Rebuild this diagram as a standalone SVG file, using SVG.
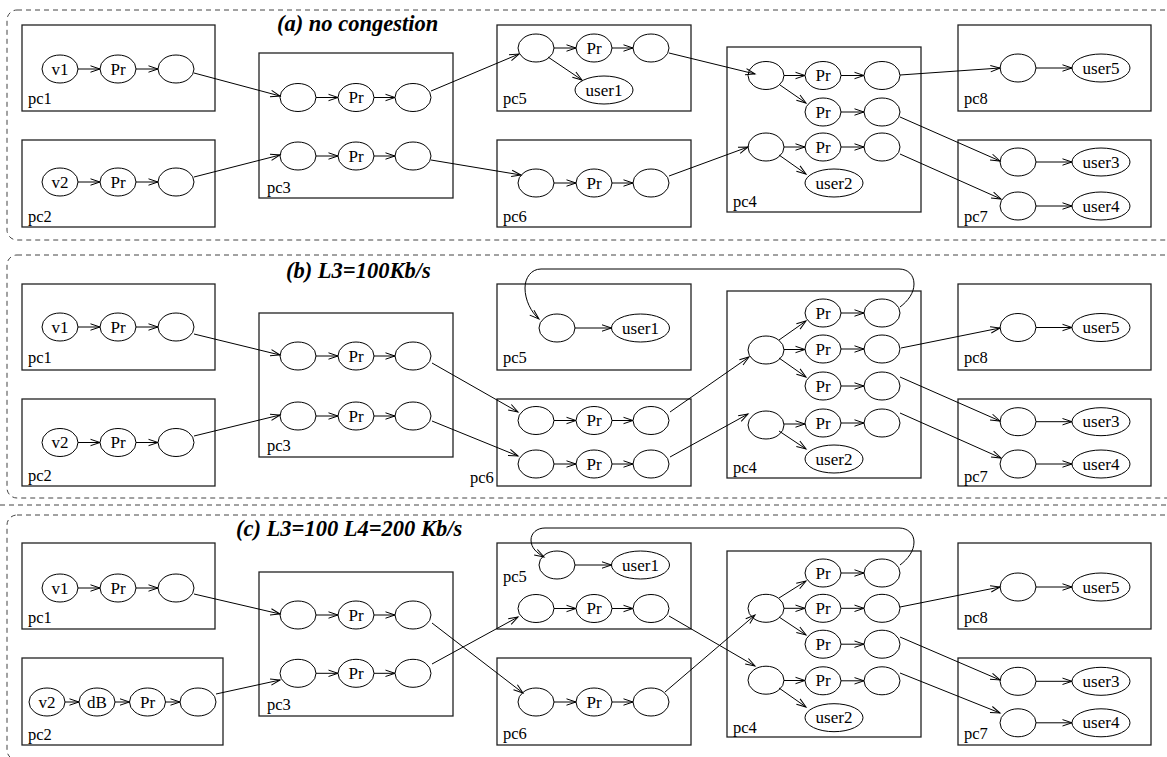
<svg xmlns="http://www.w3.org/2000/svg" width="1167" height="757" viewBox="0 0 1167 757">
<style>
.frame{fill:none;stroke:#444;stroke-width:1;stroke-dasharray:5 4}
.box{fill:none;stroke:#222;stroke-width:1.3}
ellipse{fill:#fff;stroke:#000;stroke-width:1}
text{font-family:"Liberation Serif","DejaVu Serif",serif;font-size:16.5px;fill:#000}
.t{text-anchor:middle;font-size:17px}
.ttl{font-size:22.5px;font-weight:bold;font-style:italic}
#conn line,#conn path{fill:none;stroke:#000;stroke-width:1;marker-end:url(#ah)}
</style>
<defs>
<marker id="ah" markerUnits="userSpaceOnUse" markerWidth="12" markerHeight="10" viewBox="-10 -5 12 10" refX="0" refY="0" orient="auto" overflow="visible">
<path d="M-9.5,-3.2 L0,0 L-9.5,3.2" fill="none" stroke="#000" stroke-width="1"/>
</marker>
</defs>
<rect width="1167" height="757" fill="#fff"/>
<g id="frames">
<rect class="frame" x="7" y="10" width="1180" height="230" rx="10"/>
<rect class="frame" x="7" y="255" width="1180" height="243" rx="10"/>
<line class="frame" x1="0" y1="505" x2="1167" y2="505"/>
<rect class="frame" x="7" y="515" width="1180" height="245" rx="10"/>
<text class="ttl" x="277" y="31">(a) no congestion</text>
<text class="ttl" x="286" y="278">(b) L3=100Kb/s</text>
<text class="ttl" x="236" y="536">(c) L3=100 L4=200 Kb/s</text>
</g>

<!-- ===== Panel (a) ===== -->
<g id="a-pc1"><rect class="box" x="22" y="25" width="193" height="86"/><text x="28" y="104">pc1</text>
<g id="a-pc1-v1"><ellipse cx="60" cy="69" rx="18" ry="14"/><text class="t" x="60" y="74.5">v1</text></g>
<g id="a-pc1-pr"><ellipse cx="118" cy="69" rx="18" ry="14"/><text class="t" x="118" y="74.5">Pr</text></g>
<g id="a-pc1-o"><ellipse cx="176" cy="69" rx="18" ry="14"/></g></g>
<g id="a-pc2"><rect class="box" x="22" y="140" width="193" height="87"/><text x="28" y="222">pc2</text>
<g id="a-pc2-v2"><ellipse cx="60" cy="182" rx="18" ry="14"/><text class="t" x="60" y="187.5">v2</text></g>
<g id="a-pc2-pr"><ellipse cx="118" cy="182" rx="18" ry="14"/><text class="t" x="118" y="187.5">Pr</text></g>
<g id="a-pc2-o"><ellipse cx="176" cy="182" rx="18" ry="14"/></g></g>
<g id="a-pc3"><rect class="box" x="259" y="53" width="194" height="145"/><text x="267" y="193">pc3</text>
<g id="a-pc3-i1"><ellipse cx="298" cy="97.5" rx="18" ry="14"/></g>
<g id="a-pc3-pr1"><ellipse cx="356" cy="97.5" rx="18" ry="14"/><text class="t" x="356" y="103">Pr</text></g>
<g id="a-pc3-o1"><ellipse cx="413" cy="97.5" rx="18" ry="14"/></g>
<g id="a-pc3-i2"><ellipse cx="298" cy="156" rx="18" ry="14"/></g>
<g id="a-pc3-pr2"><ellipse cx="356" cy="156" rx="18" ry="14"/><text class="t" x="356" y="161.5">Pr</text></g>
<g id="a-pc3-o2"><ellipse cx="413" cy="156" rx="18" ry="14"/></g></g>
<g id="a-pc5"><rect class="box" x="497" y="25" width="194" height="86"/><text x="503" y="104">pc5</text>
<g id="a-pc5-i"><ellipse cx="536" cy="48" rx="18" ry="14"/></g>
<g id="a-pc5-pr"><ellipse cx="594" cy="48" rx="18" ry="14"/><text class="t" x="594" y="53.5">Pr</text></g>
<g id="a-pc5-o"><ellipse cx="651" cy="48" rx="18" ry="14"/></g>
<g id="a-pc5-user1"><ellipse cx="604" cy="90" rx="29" ry="14"/><text class="t" x="604" y="95.5">user1</text></g></g>
<g id="a-pc6"><rect class="box" x="497" y="140" width="194" height="87"/><text x="503" y="222">pc6</text>
<g id="a-pc6-i"><ellipse cx="536" cy="183" rx="18" ry="14"/></g>
<g id="a-pc6-pr"><ellipse cx="594" cy="183" rx="18" ry="14"/><text class="t" x="594" y="188.5">Pr</text></g>
<g id="a-pc6-o"><ellipse cx="651" cy="183" rx="18" ry="14"/></g></g>
<g id="a-pc4"><rect class="box" x="727" y="47" width="194" height="165"/><text x="733" y="207">pc4</text>
<g id="a-pc4-i1"><ellipse cx="766" cy="75.5" rx="18" ry="14"/></g>
<g id="a-pc4-pr1"><ellipse cx="823" cy="75.5" rx="18" ry="14"/><text class="t" x="823" y="81">Pr</text></g>
<g id="a-pc4-o1"><ellipse cx="882" cy="75.5" rx="18" ry="14"/></g>
<g id="a-pc4-pr2"><ellipse cx="823" cy="112" rx="18" ry="14"/><text class="t" x="823" y="117.5">Pr</text></g>
<g id="a-pc4-o2"><ellipse cx="882" cy="112" rx="18" ry="14"/></g>
<g id="a-pc4-i2"><ellipse cx="766" cy="147" rx="18" ry="14"/></g>
<g id="a-pc4-pr3"><ellipse cx="823" cy="147" rx="18" ry="14"/><text class="t" x="823" y="152.5">Pr</text></g>
<g id="a-pc4-o3"><ellipse cx="882" cy="147" rx="18" ry="14"/></g>
<g id="a-pc4-user2"><ellipse cx="834" cy="183" rx="29" ry="14"/><text class="t" x="834" y="188.5">user2</text></g></g>
<g id="a-pc8"><rect class="box" x="958" y="25" width="193" height="86"/><text x="964" y="104">pc8</text>
<g id="a-pc8-i"><ellipse cx="1018" cy="68" rx="18" ry="14"/></g>
<g id="a-pc8-user5"><ellipse cx="1101" cy="68" rx="29" ry="14"/><text class="t" x="1101" y="73.5">user5</text></g></g>
<g id="a-pc7"><rect class="box" x="958" y="140" width="193" height="87"/><text x="964" y="222">pc7</text>
<g id="a-pc7-i1"><ellipse cx="1018" cy="162" rx="18" ry="14"/></g>
<g id="a-pc7-user3"><ellipse cx="1101" cy="162" rx="29" ry="14"/><text class="t" x="1101" y="167.5">user3</text></g>
<g id="a-pc7-i2"><ellipse cx="1018" cy="206" rx="18" ry="14"/></g>
<g id="a-pc7-user4"><ellipse cx="1101" cy="206" rx="29" ry="14"/><text class="t" x="1101" y="211.5">user4</text></g></g>

<!-- ===== Panel (b) ===== -->
<g id="b-pc1"><rect class="box" x="22" y="284" width="193" height="86"/><text x="28" y="363">pc1</text>
<g id="b-pc1-v1"><ellipse cx="60" cy="327" rx="18" ry="14"/><text class="t" x="60" y="332.5">v1</text></g>
<g id="b-pc1-pr"><ellipse cx="118" cy="327" rx="18" ry="14"/><text class="t" x="118" y="332.5">Pr</text></g>
<g id="b-pc1-o"><ellipse cx="176" cy="327" rx="18" ry="14"/></g></g>
<g id="b-pc2"><rect class="box" x="22" y="399" width="193" height="87"/><text x="28" y="481">pc2</text>
<g id="b-pc2-v2"><ellipse cx="60" cy="442.5" rx="18" ry="14"/><text class="t" x="60" y="448">v2</text></g>
<g id="b-pc2-pr"><ellipse cx="118" cy="442.5" rx="18" ry="14"/><text class="t" x="118" y="448">Pr</text></g>
<g id="b-pc2-o"><ellipse cx="176" cy="442.5" rx="18" ry="14"/></g></g>
<g id="b-pc3"><rect class="box" x="259" y="313" width="194" height="144"/><text x="267" y="451">pc3</text>
<g id="b-pc3-i1"><ellipse cx="298" cy="356" rx="18" ry="14"/></g>
<g id="b-pc3-pr1"><ellipse cx="356" cy="356" rx="18" ry="14"/><text class="t" x="356" y="361.5">Pr</text></g>
<g id="b-pc3-o1"><ellipse cx="413" cy="356" rx="18" ry="14"/></g>
<g id="b-pc3-i2"><ellipse cx="298" cy="416" rx="18" ry="14"/></g>
<g id="b-pc3-pr2"><ellipse cx="356" cy="416" rx="18" ry="14"/><text class="t" x="356" y="421.5">Pr</text></g>
<g id="b-pc3-o2"><ellipse cx="413" cy="416" rx="18" ry="14"/></g></g>
<g id="b-pc5"><rect class="box" x="497" y="284" width="194" height="86"/><text x="503" y="363">pc5</text>
<g id="b-pc5-i"><ellipse cx="557" cy="328" rx="18" ry="14"/></g>
<g id="b-pc5-user1"><ellipse cx="640.5" cy="328" rx="29" ry="14"/><text class="t" x="640.5" y="333.5">user1</text></g></g>
<g id="b-pc6"><rect class="box" x="497" y="399" width="194" height="87"/><text x="470" y="483">pc6</text>
<g id="b-pc6-i1"><ellipse cx="536" cy="420.5" rx="18" ry="14"/></g>
<g id="b-pc6-pr1"><ellipse cx="594" cy="420.5" rx="18" ry="14"/><text class="t" x="594" y="426">Pr</text></g>
<g id="b-pc6-o1"><ellipse cx="651" cy="420.5" rx="18" ry="14"/></g>
<g id="b-pc6-i2"><ellipse cx="536" cy="464" rx="18" ry="14"/></g>
<g id="b-pc6-pr2"><ellipse cx="594" cy="464" rx="18" ry="14"/><text class="t" x="594" y="469.5">Pr</text></g>
<g id="b-pc6-o2"><ellipse cx="651" cy="464" rx="18" ry="14"/></g></g>
<g id="b-pc4"><rect class="box" x="727" y="291" width="194" height="187"/><text x="733" y="473">pc4</text>
<g id="b-pc4-i1"><ellipse cx="766" cy="350" rx="18" ry="14"/></g>
<g id="b-pc4-i2"><ellipse cx="766" cy="425" rx="18" ry="14"/></g>
<g id="b-pc4-pr1"><ellipse cx="823" cy="313" rx="18" ry="14"/><text class="t" x="823" y="318.5">Pr</text></g>
<g id="b-pc4-pr2"><ellipse cx="823" cy="349" rx="18" ry="14"/><text class="t" x="823" y="354.5">Pr</text></g>
<g id="b-pc4-pr3"><ellipse cx="823" cy="386" rx="18" ry="14"/><text class="t" x="823" y="391.5">Pr</text></g>
<g id="b-pc4-pr4"><ellipse cx="823" cy="423" rx="18" ry="14"/><text class="t" x="823" y="428.5">Pr</text></g>
<g id="b-pc4-o1"><ellipse cx="882" cy="313" rx="18" ry="14"/></g>
<g id="b-pc4-o2"><ellipse cx="882" cy="349" rx="18" ry="14"/></g>
<g id="b-pc4-o3"><ellipse cx="882" cy="386" rx="18" ry="14"/></g>
<g id="b-pc4-o4"><ellipse cx="882" cy="423" rx="18" ry="14"/></g>
<g id="b-pc4-user2"><ellipse cx="834" cy="459" rx="29" ry="14"/><text class="t" x="834" y="464.5">user2</text></g></g>
<g id="b-pc8"><rect class="box" x="958" y="284" width="193" height="86"/><text x="964" y="363">pc8</text>
<g id="b-pc8-i"><ellipse cx="1018" cy="327.5" rx="18" ry="14"/></g>
<g id="b-pc8-user5"><ellipse cx="1101" cy="327.5" rx="29" ry="14"/><text class="t" x="1101" y="333">user5</text></g></g>
<g id="b-pc7"><rect class="box" x="958" y="399" width="193" height="87"/><text x="964" y="482">pc7</text>
<g id="b-pc7-i1"><ellipse cx="1018" cy="421.7" rx="18" ry="14"/></g>
<g id="b-pc7-user3"><ellipse cx="1101" cy="421.7" rx="29" ry="14"/><text class="t" x="1101" y="427.2">user3</text></g>
<g id="b-pc7-i2"><ellipse cx="1018" cy="464" rx="18" ry="14"/></g>
<g id="b-pc7-user4"><ellipse cx="1101" cy="464" rx="29" ry="14"/><text class="t" x="1101" y="469.5">user4</text></g></g>

<!-- ===== Panel (c) ===== -->
<g id="c-pc1"><rect class="box" x="22" y="543" width="193" height="86"/><text x="28" y="623">pc1</text>
<g id="c-pc1-v1"><ellipse cx="60" cy="588" rx="18" ry="14"/><text class="t" x="60" y="593.5">v1</text></g>
<g id="c-pc1-pr"><ellipse cx="118" cy="588" rx="18" ry="14"/><text class="t" x="118" y="593.5">Pr</text></g>
<g id="c-pc1-o"><ellipse cx="176" cy="588" rx="18" ry="14"/></g></g>
<g id="c-pc2"><rect class="box" x="22" y="658" width="201" height="87"/><text x="28" y="740">pc2</text>
<g id="c-pc2-v2"><ellipse cx="47" cy="702" rx="18" ry="14"/><text class="t" x="47" y="707.5">v2</text></g>
<g id="c-pc2-db"><ellipse cx="97" cy="702" rx="18" ry="14"/><text class="t" x="97" y="707.5">dB</text></g>
<g id="c-pc2-pr"><ellipse cx="147.5" cy="702" rx="18" ry="14"/><text class="t" x="147.5" y="707.5">Pr</text></g>
<g id="c-pc2-o"><ellipse cx="198" cy="702" rx="18" ry="14"/></g></g>
<g id="c-pc3"><rect class="box" x="259" y="572" width="194" height="144"/><text x="267" y="710">pc3</text>
<g id="c-pc3-i1"><ellipse cx="298" cy="615" rx="18" ry="14"/></g>
<g id="c-pc3-pr1"><ellipse cx="356" cy="615" rx="18" ry="14"/><text class="t" x="356" y="620.5">Pr</text></g>
<g id="c-pc3-o1"><ellipse cx="413" cy="615" rx="18" ry="14"/></g>
<g id="c-pc3-i2"><ellipse cx="298" cy="673.3" rx="18" ry="14"/></g>
<g id="c-pc3-pr2"><ellipse cx="356" cy="673.3" rx="18" ry="14"/><text class="t" x="356" y="678.8">Pr</text></g>
<g id="c-pc3-o2"><ellipse cx="413" cy="673.3" rx="18" ry="14"/></g></g>
<g id="c-pc5"><rect class="box" x="497" y="543" width="194" height="86"/><text x="503" y="582">pc5</text>
<g id="c-pc5-u"><ellipse cx="557" cy="565" rx="18" ry="14"/></g>
<g id="c-pc5-user1"><ellipse cx="640.5" cy="565" rx="29" ry="14"/><text class="t" x="640.5" y="570.5">user1</text></g>
<g id="c-pc5-i"><ellipse cx="536" cy="608.5" rx="18" ry="14"/></g>
<g id="c-pc5-pr"><ellipse cx="594" cy="608.5" rx="18" ry="14"/><text class="t" x="594" y="614">Pr</text></g>
<g id="c-pc5-o"><ellipse cx="651" cy="608.5" rx="18" ry="14"/></g></g>
<g id="c-pc6"><rect class="box" x="497" y="658" width="194" height="87"/><text x="503" y="739">pc6</text>
<g id="c-pc6-i"><ellipse cx="536" cy="702" rx="18" ry="14"/></g>
<g id="c-pc6-pr"><ellipse cx="594" cy="702" rx="18" ry="14"/><text class="t" x="594" y="707.5">Pr</text></g>
<g id="c-pc6-o"><ellipse cx="651" cy="702" rx="18" ry="14"/></g></g>
<g id="c-pc4"><rect class="box" x="727" y="551" width="194" height="186"/><text x="733" y="733">pc4</text>
<g id="c-pc4-i1"><ellipse cx="766" cy="608.3" rx="18" ry="14"/></g>
<g id="c-pc4-i2"><ellipse cx="766" cy="680.2" rx="18" ry="14"/></g>
<g id="c-pc4-pr1"><ellipse cx="823" cy="573" rx="18" ry="14"/><text class="t" x="823" y="578.5">Pr</text></g>
<g id="c-pc4-pr2"><ellipse cx="823" cy="608.3" rx="18" ry="14"/><text class="t" x="823" y="613.8">Pr</text></g>
<g id="c-pc4-pr3"><ellipse cx="823" cy="644.2" rx="18" ry="14"/><text class="t" x="823" y="649.7">Pr</text></g>
<g id="c-pc4-pr4"><ellipse cx="823" cy="680.8" rx="18" ry="14"/><text class="t" x="823" y="686.3">Pr</text></g>
<g id="c-pc4-o1"><ellipse cx="882" cy="573" rx="18" ry="14"/></g>
<g id="c-pc4-o2"><ellipse cx="882" cy="608.3" rx="18" ry="14"/></g>
<g id="c-pc4-o3"><ellipse cx="882" cy="644.2" rx="18" ry="14"/></g>
<g id="c-pc4-o4"><ellipse cx="882" cy="680.8" rx="18" ry="14"/></g>
<g id="c-pc4-user2"><ellipse cx="834" cy="717.7" rx="29" ry="14"/><text class="t" x="834" y="723.2">user2</text></g></g>
<g id="c-pc8"><rect class="box" x="958" y="543" width="193" height="86"/><text x="964" y="623">pc8</text>
<g id="c-pc8-i"><ellipse cx="1018" cy="587" rx="18" ry="14"/></g>
<g id="c-pc8-user5"><ellipse cx="1101" cy="587" rx="29" ry="14"/><text class="t" x="1101" y="592.5">user5</text></g></g>
<g id="c-pc7"><rect class="box" x="958" y="658" width="193" height="87"/><text x="964" y="739">pc7</text>
<g id="c-pc7-i1"><ellipse cx="1018" cy="681.3" rx="18" ry="14"/></g>
<g id="c-pc7-user3"><ellipse cx="1101" cy="681.3" rx="29" ry="14"/><text class="t" x="1101" y="686.8">user3</text></g>
<g id="c-pc7-i2"><ellipse cx="1018" cy="722.8" rx="18" ry="14"/></g>
<g id="c-pc7-user4"><ellipse cx="1101" cy="722.8" rx="29" ry="14"/><text class="t" x="1101" y="728.3">user4</text></g></g>

<g id="conn">
<!-- (a) -->
<line x1="78" y1="69" x2="100" y2="69"/><line x1="136" y1="69" x2="158" y2="69"/>
<line x1="78" y1="182" x2="100" y2="182"/><line x1="136" y1="182" x2="158" y2="182"/>
<line x1="194" y1="73" x2="280" y2="96"/>
<line x1="194" y1="177" x2="280" y2="155"/>
<line x1="316" y1="97.5" x2="338" y2="97.5"/><line x1="374" y1="97.5" x2="395" y2="97.5"/>
<line x1="316" y1="156" x2="338" y2="156"/><line x1="374" y1="156" x2="395" y2="156"/>
<line x1="431" y1="91" x2="519" y2="54"/>
<line x1="431" y1="160" x2="521" y2="175"/>
<line x1="554" y1="48" x2="576" y2="48"/><line x1="612" y1="48" x2="633" y2="48"/>
<line x1="548" y1="57" x2="582" y2="80"/>
<line x1="669" y1="53" x2="755" y2="74"/>
<line x1="554" y1="183" x2="576" y2="183"/><line x1="612" y1="183" x2="633" y2="183"/>
<line x1="669" y1="176" x2="748" y2="147"/>
<line x1="784" y1="75.5" x2="805" y2="75.5"/><line x1="841" y1="75.5" x2="864" y2="75.5"/>
<line x1="780" y1="85" x2="806" y2="103"/>
<line x1="841" y1="112" x2="864" y2="112"/>
<line x1="784" y1="147" x2="805" y2="147"/><line x1="841" y1="147" x2="864" y2="147"/>
<line x1="779" y1="155" x2="806" y2="174"/>
<line x1="900" y1="75" x2="1000" y2="68"/>
<line x1="900" y1="117" x2="1000" y2="161"/>
<line x1="900" y1="154" x2="1001" y2="199"/>
<line x1="1036" y1="68" x2="1072" y2="68"/>
<line x1="1036" y1="162" x2="1072" y2="162"/>
<line x1="1036" y1="206" x2="1072" y2="206"/>
<!-- (b) -->
<line x1="78" y1="327" x2="100" y2="327"/><line x1="136" y1="327" x2="158" y2="327"/>
<line x1="78" y1="442.5" x2="100" y2="442.5"/><line x1="136" y1="442.5" x2="158" y2="442.5"/>
<line x1="194" y1="334" x2="280" y2="355"/>
<line x1="194" y1="436" x2="280" y2="415"/>
<line x1="316" y1="356" x2="338" y2="356"/><line x1="374" y1="356" x2="395" y2="356"/>
<line x1="316" y1="416" x2="338" y2="416"/><line x1="374" y1="416" x2="395" y2="416"/>
<line x1="432" y1="363" x2="518" y2="412"/>
<line x1="432" y1="421" x2="518" y2="456"/>
<line x1="554" y1="420.5" x2="576" y2="420.5"/><line x1="612" y1="420.5" x2="633" y2="420.5"/>
<line x1="554" y1="464" x2="576" y2="464"/><line x1="612" y1="464" x2="633" y2="464"/>
<line x1="670" y1="412" x2="749" y2="357"/>
<line x1="670" y1="457" x2="748" y2="414"/>
<line x1="779" y1="340" x2="806" y2="321"/>
<line x1="784" y1="349.5" x2="805" y2="349.5"/>
<line x1="779" y1="358" x2="806" y2="377"/>
<line x1="784" y1="424" x2="805" y2="424"/>
<line x1="779" y1="431" x2="806" y2="449"/>
<line x1="841" y1="313" x2="864" y2="313"/><line x1="841" y1="349" x2="864" y2="349"/>
<line x1="841" y1="386" x2="864" y2="386"/><line x1="841" y1="423" x2="864" y2="423"/>
<path d="M900,307 C908,301 914,293 914,284 C914,275 908,269 899,269 L541,269 C531,269 525,278 525,288 C525,300 531,312 539,319"/>
<line x1="575" y1="328" x2="611.5" y2="328"/>
<line x1="901" y1="348" x2="1000" y2="328"/>
<line x1="900" y1="377" x2="1000" y2="421"/>
<line x1="900" y1="413" x2="1001" y2="458"/>
<line x1="1036" y1="327.5" x2="1072" y2="327.5"/>
<line x1="1036" y1="421.7" x2="1072" y2="421.7"/>
<line x1="1036" y1="464" x2="1072" y2="464"/>
<!-- (c) -->
<line x1="78" y1="588" x2="100" y2="588"/><line x1="136" y1="588" x2="158" y2="588"/>
<line x1="65" y1="702" x2="79" y2="702"/><line x1="115" y1="702" x2="129.5" y2="702"/><line x1="165.5" y1="702" x2="180" y2="702"/>
<line x1="194" y1="594" x2="280" y2="614"/>
<line x1="216" y1="694" x2="280" y2="680"/>
<line x1="316" y1="615" x2="338" y2="615"/><line x1="374" y1="615" x2="395" y2="615"/>
<line x1="316" y1="673.3" x2="338" y2="673.3"/><line x1="374" y1="673.3" x2="395" y2="673.3"/>
<line x1="432" y1="623" x2="523" y2="693"/>
<line x1="432" y1="664" x2="518" y2="617"/>
<line x1="575" y1="565" x2="611.5" y2="565"/>
<line x1="554" y1="608.5" x2="576" y2="608.5"/><line x1="612" y1="608.5" x2="633" y2="608.5"/>
<line x1="669" y1="616" x2="755" y2="666"/>
<line x1="554" y1="702" x2="576" y2="702"/><line x1="612" y1="702" x2="633" y2="702"/>
<line x1="665" y1="692" x2="755" y2="615"/>
<line x1="779" y1="598" x2="806" y2="581"/>
<line x1="784" y1="608.3" x2="805" y2="608.3"/>
<line x1="779" y1="617" x2="806" y2="635"/>
<line x1="784" y1="680.5" x2="805" y2="680.5"/>
<line x1="779" y1="688" x2="806" y2="707"/>
<line x1="841" y1="573" x2="864" y2="573"/><line x1="841" y1="608.3" x2="864" y2="608.3"/>
<line x1="841" y1="644.2" x2="864" y2="644.2"/><line x1="841" y1="680.8" x2="864" y2="680.8"/>
<path d="M900,565 C908,559 914,551 914,542 C914,534 908,528 899,528 L545,528 C537,528 531,533 531,540 C531,548 537,553 544,557"/>
<line x1="900" y1="607" x2="1000" y2="587"/>
<line x1="900" y1="637" x2="1000" y2="680"/>
<line x1="900" y1="673" x2="1000" y2="713"/>
<line x1="1036" y1="587" x2="1072" y2="587"/>
<line x1="1036" y1="681.3" x2="1072" y2="681.3"/>
<line x1="1036" y1="722.8" x2="1072" y2="722.8"/>
</g>
</svg>
